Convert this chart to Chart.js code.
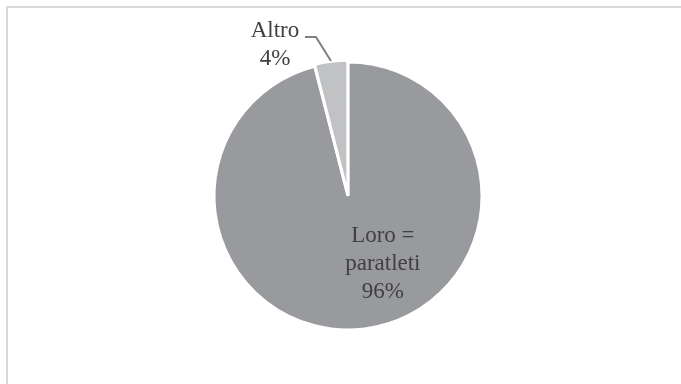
<!DOCTYPE html>
<html>
<head>
<meta charset="utf-8">
<script src="https://cdn.jsdelivr.net/npm/chart.js@4/dist/chart.umd.min.js"></script>
<style>
  html, body { margin: 0; padding: 0; background: #fff; }
  #wrap { width: 681px; height: 384px; position: relative; }
  #fontProbe { font-family: 'Liberation Serif'; position: absolute; left: -999px; top: 0; }
</style>
</head>
<body>
<span id="fontProbe">Altro 96%</span>
<div id="wrap"><canvas id="quotaChart" width="681" height="384"></canvas></div>
<script>
const categories = ['Loro = paratleti', 'Altro'];
const labelLines = [['Loro =', 'paratleti'], ['Altro']];
const values = [96, 4];
const sliceColors = ['#999a9e', '#c1c2c4'];

const labelFont = "23px 'Liberation Serif'";

// cornice grigia chiara attorno al grafico
const framePlugin = {
    id: 'frame',
    beforeDraw(chart) {
        const ctx = chart.ctx;
        ctx.save();
        ctx.strokeStyle = '#d9d9d9';
        ctx.lineWidth = 2;
        ctx.strokeRect(7, 7, chart.width + 20, chart.height + 20);
        ctx.restore();
    }
};

// etichette con percentuale, "Altro" fuori dalla torta con linea guida
const labelPlugin = {
    id: 'sliceLabels',
    afterDraw(chart) {
        const ctx = chart.ctx;
        const arcs = chart.getDatasetMeta(0).data;
        const total = values.reduce((a, b) => a + b, 0);
        ctx.save();
        ctx.font = labelFont;
        ctx.fillStyle = '#404040';
        ctx.textAlign = 'center';
        ctx.textBaseline = 'middle';

        // fetta grande: testo dentro
        const big = arcs[0];
        const lines0 = labelLines[0].concat([Math.round(values[0] / total * 100) + '%']);
        const bx = big.x + big.outerRadius * 0.26;
        const by = big.y + big.outerRadius * 0.3;
        lines0.forEach((t, i) => ctx.fillText(t, bx, by + i * 28));

        // fetta piccola: testo esterno
        const small = arcs[1];
        const mid = (small.startAngle + small.endAngle) / 2;
        const r = small.outerRadius + 2;
        const px = small.x + Math.cos(mid) * r;
        const py = small.y + Math.sin(mid) * r;
        const ex = px - 15, ey = py - 24;
        ctx.strokeStyle = '#7f7f7f';
        ctx.lineWidth = 2;
        ctx.beginPath();
        ctx.moveTo(px, py);
        ctx.lineTo(ex, ey);
        ctx.lineTo(ex - 11, ey);
        ctx.stroke();
        const lines1 = labelLines[1].concat([Math.round(values[1] / total * 100) + '%']);
        lines1.forEach((t, i) => ctx.fillText(t, ex - 41, ey - 6 + i * 28));
        ctx.restore();
    }
};

function drawChart() {
    new Chart(document.getElementById('quotaChart'), {
        type: 'pie',
        data: {
            labels: categories,
            datasets: [{
                data: values,
                backgroundColor: sliceColors,
                borderColor: '#ffffff',
                borderWidth: 3,
                offset: [0, 4],
                radius: 134
            }]
        },
        options: {
            responsive: false,
            animation: false,
            layout: { padding: { top: 62, bottom: 54, left: 214, right: 199 } },
            plugins: {
                legend: { display: false },
                tooltip: { enabled: false }
            }
        },
        plugins: [framePlugin, labelPlugin]
    });
}

document.fonts.load(labelFont).then(drawChart, drawChart);
</script>
</body>
</html>
